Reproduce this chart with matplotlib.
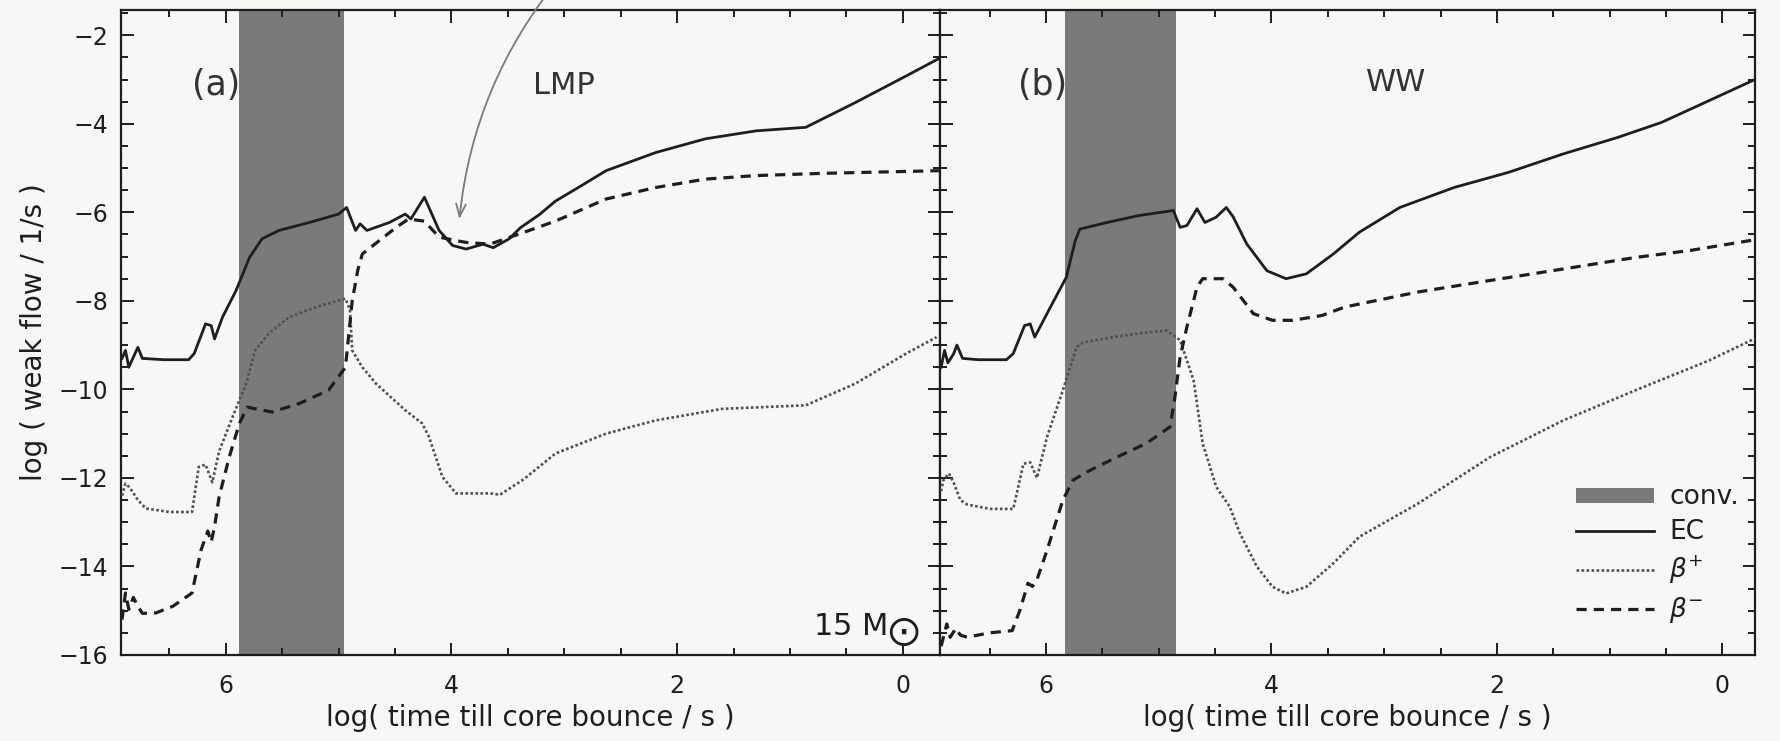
import matplotlib
matplotlib.use('Agg')
import matplotlib.pyplot as plt
from matplotlib.patches import Patch
from matplotlib.lines import Line2D
from matplotlib.ticker import MultipleLocator

plt.rcParams['font.family'] = ['DejaVu Sans']

# ---- panel (a): LMP rates ----
ec_a_x = [6.92, 6.89, 6.86, 6.78, 6.74, 6.55, 6.33, 6.28, 6.18, 6.13, 6.10, 6.03, 5.91, 5.79, 5.68,
          5.53, 5.26, 5.00, 4.93, 4.85, 4.81, 4.75, 4.55, 4.41, 4.36, 4.24, 4.11, 3.99, 3.87, 3.72,
          3.63, 3.49, 3.39, 3.22, 3.08, 2.85, 2.63, 2.19, 1.75, 1.30, 0.86, 0.42, -0.03, -0.34]
ec_a_y = [-9.3, -9.12, -9.5, -9.05, -9.3, -9.33, -9.33, -9.19, -8.52, -8.56, -8.86, -8.37, -7.77, -7.02, -6.6,
          -6.41, -6.23, -6.04, -5.89, -6.41, -6.26, -6.41, -6.23, -6.04, -6.15, -5.66, -6.41, -6.75, -6.83, -6.72,
          -6.8, -6.6, -6.35, -6.05, -5.75, -5.4, -5.06, -4.65, -4.34, -4.16, -4.08, -3.52, -2.92, -2.5]

bp_a_x = [6.92, 6.89, 6.86, 6.83, 6.78, 6.71, 6.5, 6.30, 6.24, 6.18, 6.12, 6.06, 5.94, 5.82, 5.74,
          5.62, 5.44, 5.20, 4.94, 4.90, 4.88, 4.79, 4.67, 4.41, 4.26, 4.20, 4.08, 3.96, 3.80, 3.66,
          3.57, 3.37, 3.19, 3.08, 2.63, 2.19, 1.6, 0.86, 0.42, -0.03, -0.30]
bp_a_y = [-12.4, -12.13, -12.2, -12.3, -12.5, -12.69, -12.77, -12.77, -11.75, -11.7, -12.1, -11.4, -10.62, -9.87, -9.12,
          -8.74, -8.37, -8.14, -7.95, -8.2, -9.12, -9.5, -9.87, -10.47, -10.77, -11.07, -11.98, -12.35, -12.35, -12.35,
          -12.38, -12.05, -11.68, -11.45, -11.0, -10.70, -10.44, -10.36, -9.87, -9.19, -8.82]

bm_a_x = [6.92, 6.89, 6.86, 6.82, 6.78, 6.74, 6.62, 6.47, 6.30, 6.22, 6.16, 6.13, 6.10, 6.06, 5.97,
          5.88, 5.81, 5.72, 5.59, 5.35, 5.09, 4.94, 4.88, 4.83, 4.79, 4.64, 4.49, 4.38, 4.24, 4.11,
          3.96, 3.87, 3.66, 3.49, 3.3, 3.08, 2.63, 2.19, 1.75, 1.30, 0.71, -0.32]
bm_a_y = [-15.2, -14.6, -14.97, -14.7, -14.9, -15.06, -15.05, -14.9, -14.6, -13.63, -13.2, -13.45, -13.1, -12.43, -11.53,
          -10.77, -10.4, -10.45, -10.51, -10.32, -10.02, -9.5, -8.0, -7.3, -6.94, -6.64, -6.34, -6.15, -6.2, -6.56,
          -6.64, -6.68, -6.72, -6.57, -6.4, -6.2, -5.70, -5.44, -5.25, -5.17, -5.12, -5.06]

# ---- panel (b): WW rates ----
ec_b_x = [6.93, 6.90, 6.87, 6.82, 6.79, 6.74, 6.6, 6.45, 6.35, 6.29, 6.19, 6.14, 6.10, 5.96, 5.82,
          5.74, 5.70, 5.46, 5.17, 4.87, 4.81, 4.75, 4.66, 4.59, 4.49, 4.40, 4.34, 4.22, 4.04, 3.87,
          3.69, 3.45, 3.22, 2.86, 2.38, 1.90, 1.41, 0.93, 0.54, 0.12, -0.29]
ec_b_y = [-9.5, -9.12, -9.4, -9.2, -9.0, -9.3, -9.33, -9.33, -9.33, -9.19, -8.56, -8.52, -8.82, -8.14, -7.47,
          -6.64, -6.38, -6.23, -6.07, -5.96, -6.34, -6.3, -5.92, -6.23, -6.11, -5.89, -6.1, -6.71, -7.32, -7.5,
          -7.39, -6.94, -6.45, -5.89, -5.44, -5.10, -4.68, -4.31, -3.97, -3.48, -3.0]

bp_b_x = [6.93, 6.91, 6.86, 6.82, 6.76, 6.70, 6.5, 6.29, 6.20, 6.14, 6.08, 5.99, 5.85, 5.73, 5.67,
          5.40, 5.16, 4.93, 4.81, 4.69, 4.61, 4.49, 4.37, 4.28, 4.13, 3.99, 3.87, 3.69, 3.45, 3.22,
          2.70, 2.06, 1.41, 0.77, 0.12, -0.29]
bp_b_y = [-12.3, -12.05, -11.9, -12.1, -12.5, -12.6, -12.7, -12.7, -11.68, -11.65, -12.0, -11.07, -10.02, -9.05, -8.94,
          -8.82, -8.73, -8.67, -8.89, -9.8, -11.22, -12.2, -12.65, -13.25, -14.0, -14.46, -14.61, -14.46, -13.93, -13.33,
          -12.58, -11.53, -10.7, -10.02, -9.35, -8.85]

bm_b_x = [6.93, 6.88, 6.85, 6.80, 6.76, 6.70, 6.5, 6.30, 6.23, 6.16, 6.12, 6.08, 5.99, 5.85, 5.76,
          5.61, 5.37, 5.11, 4.90, 4.86, 4.81, 4.75, 4.66, 4.61, 4.43, 4.34, 4.16, 3.99, 3.81, 3.55,
          3.35, 2.70, 2.06, 1.41, 0.77, 0.28, -0.29]
bm_b_y = [-15.8, -15.3, -15.6, -15.4, -15.55, -15.6, -15.5, -15.45, -14.98, -14.38, -14.45, -14.3, -13.63, -12.5, -12.05,
          -11.83, -11.53, -11.22, -10.85, -10.25, -9.27, -8.59, -7.69, -7.5, -7.5, -7.69, -8.29, -8.44, -8.44, -8.33,
          -8.14, -7.8, -7.54, -7.28, -7.02, -6.86, -6.62]

conv_a = (5.88, 4.95)
conv_b = (5.83, 4.85)

bg = '#f7f7f5'
ink = '#1e1e1e'
gray = '#7a7a7a'
dotc = '#505050'
dash = (0, (3.2, 2.2))
dots = (0, (1, 0.9))

fig = plt.figure(figsize=(17.81, 7.41), dpi=100, facecolor=bg)
ax1 = fig.add_axes([0.0679, 0.1161, 0.4599, 0.8704], facecolor=bg)
ax2 = fig.add_axes([0.5278, 0.1161, 0.4576, 0.8704], facecolor=bg)

panels = [
    (ax1, conv_a, ec_a_x, ec_a_y, bp_a_x, bp_a_y, bm_a_x, bm_a_y, (6.93, -0.33)),
    (ax2, conv_b, ec_b_x, ec_b_y, bp_b_x, bp_b_y, bm_b_x, bm_b_y, (6.94, -0.29)),
]

for ax, conv, ex, ey, px, py, mx, my, xl in panels:
    ax.axvspan(conv[0], conv[1], color=gray, lw=0, zorder=1)
    ax.plot(ex, ey, color=ink, lw=2.0, zorder=3)
    ax.plot(px, py, color=dotc, lw=1.9, linestyle=dots, zorder=3)
    ax.plot(mx, my, color=ink, lw=2.3, linestyle=dash, zorder=3)
    ax.set_xlim(*xl)
    ax.set_ylim(-16, -1.43)
    ax.xaxis.set_major_locator(MultipleLocator(2))
    ax.xaxis.set_minor_locator(MultipleLocator(0.5))
    ax.yaxis.set_major_locator(MultipleLocator(2))
    ax.yaxis.set_minor_locator(MultipleLocator(0.5))
    ax.tick_params(which='both', direction='in', top=True, right=True, width=1.4, color=ink,
                   labelsize=17, labelcolor=ink)
    ax.tick_params(axis='x', pad=14)
    ax.tick_params(axis='y', pad=9)
    ax.tick_params(which='major', length=9)
    ax.tick_params(which='minor', length=5)
    for s in ax.spines.values():
        s.set_linewidth(1.6)
        s.set_color(ink)
    ax.set_xlabel('log( time till core bounce / s )', fontsize=20, color=ink, labelpad=4)

ax1.set_ylabel('log ( weak flow / 1/s )', fontsize=20, color=ink, labelpad=8)
ax2.tick_params(labelleft=False)

ax1.text(6.09, -3.12, '(a)', fontsize=25, color='#333333', ha='center', va='center')
ax1.text(3.0, -3.14, 'LMP', fontsize=22, color='#333333', ha='center', va='center')
ax2.text(6.03, -3.12, '(b)', fontsize=25, color='#333333', ha='center', va='center')
ax2.text(2.89, -3.07, 'WW', fontsize=22, color='#333333', ha='center', va='center')
ax1.text(-0.15, -15.55, r'15 M$_{\bigodot}$', fontsize=22, color=ink, ha='right', va='baseline')

ax1.annotate('', xy=(3.93, -6.15), xytext=(3.04, -0.7), annotation_clip=False,
             arrowprops=dict(arrowstyle='->,head_length=0.9,head_width=0.35', color=gray, lw=1.3,
                             connectionstyle='arc3,rad=0.15', shrinkA=0, shrinkB=0))

handles = [Patch(facecolor=gray, edgecolor='none'),
           Line2D([], [], color=ink, lw=2.0),
           Line2D([], [], color=dotc, lw=1.9, linestyle=dots),
           Line2D([], [], color=ink, lw=2.3, linestyle=dash)]
labels = ['conv.', 'EC', r'$\beta^{+}$', r'$\beta^{-}$']
leg = ax2.legend(handles, labels, loc='lower right', bbox_to_anchor=(1.0, 0.022), frameon=False,
                 fontsize=19, handlelength=2.95, handleheight=0.5, handletextpad=0.6,
                 labelspacing=0.33, borderaxespad=0.2)
for t in leg.get_texts():
    t.set_color(ink)

fig.savefig('out.png', dpi=100, facecolor=bg)
